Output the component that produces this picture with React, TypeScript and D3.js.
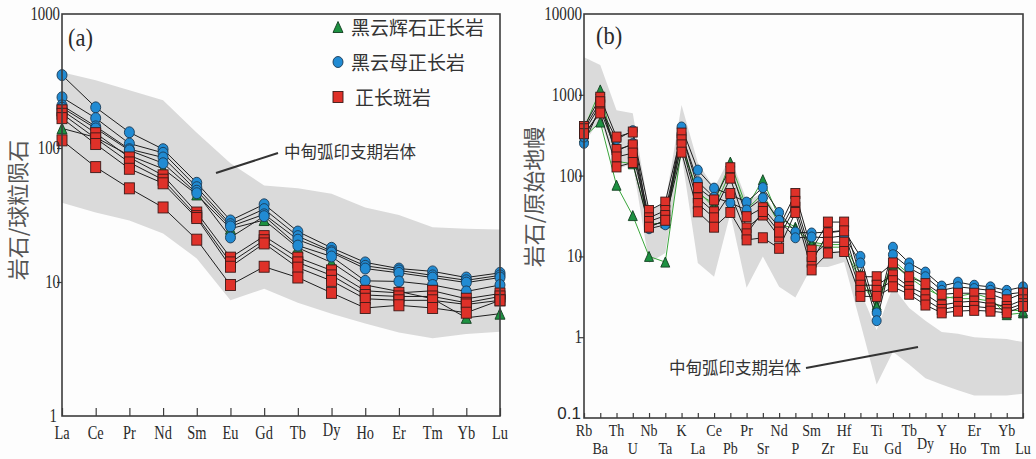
import React, { useRef, useEffect } from 'react'
import * as d3 from 'd3'

// ---- panel (a): chondrite-normalised REE ----
const reeElements = ['La', 'Ce', 'Pr', 'Nd', 'Sm', 'Eu', 'Gd', 'Tb', 'Dy', 'Ho', 'Er', 'Tm', 'Yb', 'Lu']
const reeBandUpper = [368, 320, 270, 227, 130, 77, 52.5, 50, 45.5, 36, 31.6, 25.6, 25, 24.7]
const reeBandLower = [39, 33, 28.8, 23, 15, 7.3, 8.9, 7.0, 5.8, 4.9, 4.2, 3.8, 4.1, 4.26]

const reeAugiteSyenite = [
  [140, 120, 88, 70, 45, 25, 29, 18, 14, 9.5, 8.5, 7.5, 5.4, 5.8],
]
const reeBiotiteSyenite = [
  [350, 201, 131, 98, 55, 28.8, 38, 23.8, 18, 14, 12.6, 12, 10.8, 11.7],
  [239, 167, 108, 92, 51, 27, 35, 22, 17, 13.2, 12.2, 11.2, 10.3, 11.2],
  [208, 145, 98, 85, 48, 26, 32, 20.7, 16.6, 12.6, 11.7, 10.8, 9.9, 10.8],
  [200, 140, 96, 77, 46, 21.5, 31, 18.7, 15.5, 10.2, 10.1, 9.5, 8.5, 9.5],
]
const reeSyenitePorphyry = [
  [191, 129, 85, 62.5, 33, 15.2, 22, 15.2, 12.2, 8.6, 8.3, 8.6, 7.5, 8.2],
  [180, 118, 78, 58, 31, 14, 20.5, 14, 11.2, 8, 7.8, 7.8, 7.0, 7.8],
  [167, 107, 70, 54.5, 30, 13, 19.4, 12.8, 10.2, 7.5, 7.3, 7.3, 6.8, 7.3],
  [114, 72, 50, 36, 20.7, 9.5, 13, 10.8, 8.3, 6.4, 6.7, 6.4, 5.9, 7.3],
]
const reeTicks = [1, 10, 100, 1000]

// ---- panel (b): primitive-mantle-normalised spider ----
const spiderElements = ['Rb', 'Ba', 'Th', 'U', 'Nb', 'Ta', 'K', 'La', 'Ce', 'Pb', 'Pr', 'Sr', 'Nd', 'P',
  'Sm', 'Zr', 'Hf', 'Eu', 'Ti', 'Gd', 'Tb', 'Dy', 'Y', 'Ho', 'Er', 'Tm', 'Yb', 'Lu']
const spiderBandUpper = [2910, 2340, 646, 590, 37, 46, 748, 145, 70, 170, 50, 60, 30, 17,
  17, 12, 11.5, 3.7, 1.23, 4.2, 2.3, 1.6, 1.16, 1.1, 1.0, 0.97, 0.95, 0.87]
const spiderBandLower = [250, 500, 120, 140, 8.3, 11, 180, 8.3, 5.6, 34, 4.1, 10, 4.2, 3.1,
  7.4, 7.4, 8.5, 1.5, 0.26, 0.66, 0.46, 0.31, 0.26, 0.22, 0.19, 0.19, 0.19, 0.2]

const spiderAugiteSyenite = [
  [380, 1150, 150, 140, 25, 26, 250, 60, 45, 147, 40, 89, 30, 23, 15, 14, 14, 6, 2.5, 9, 6, 4.5, 3.0, 3.2, 3.5, 3.0, 1.9, 2.0],
  [300, 460, 76, 32, 10, 8.5, 220, 65, 40, 110, 38, 60, 25, 22, 14, 13, 13, 5, 2.4, 8, 5.5, 4.0, 3.2, 3.0, 3.0, 2.8, 2.2, 2.1],
]
const spiderBiotiteSyenite = [
  [251, 700, 280, 360, 24, 27, 400, 117, 70, 58, 47, 71, 35, 20, 19.5, 20, 21, 10, 2.0, 13, 8.3, 6.4, 4.3, 4.8, 4.4, 4.2, 3.8, 4.2],
  [300, 650, 200, 250, 22, 24.6, 330, 84, 54, 46, 37.5, 53, 28, 17, 17.4, 17, 18, 8.3, 1.6, 10.5, 7.2, 5.6, 3.8, 4.2, 4.0, 3.8, 3.4, 3.6],
]
const spiderSyenitePorphyry = [
  [405, 933, 300, 346, 37, 47, 336, 71, 50, 125, 31, 40, 23, 60, 12, 26.6, 26.6, 5.6, 5.6, 8.3, 5.6, 4.6, 3.4, 3.5, 3.5, 3.4, 2.9, 3.5],
  [347, 750, 210, 240, 30, 37, 277, 53, 35.6, 93, 22.5, 32.5, 17.4, 40.6, 8.5, 19.6, 20.7, 4.4, 4.4, 5.9, 4.2, 3.4, 2.5, 2.7, 2.8, 2.6, 2.4, 2.9],
  [380, 820, 170, 190, 27, 32, 240, 45, 30, 60, 19, 36, 20, 48, 10, 15, 15, 3.8, 3.8, 5, 3.8, 2.9, 2.2, 2.4, 2.4, 2.3, 2.2, 2.6],
  [330, 596, 128, 145, 23, 28, 195, 35.6, 23, 35, 16, 17, 12.6, 35, 6.8, 11, 11.5, 3.2, 3.2, 4.2, 3.4, 2.5, 2.0, 2.1, 2.15, 2.1, 2.0, 2.4],
]
const spiderTicks = [0.1, 1, 10, 100, 1000, 10000]

const legendItems = ['黑云辉石正长岩', '黑云母正长岩', '正长斑岩']
const bandLabel = '中甸弧印支期岩体'

const BLUE = '#218bd3'
const RED = '#df3129'
const GREEN = '#1d9141'
const BAND = '#dadada'
const serif = 'Liberation Serif, Times New Roman, serif'
const cjk = 'Noto Sans CJK SC, sans-serif'

function App() {
  const svgRef = useRef(null)

  useEffect(() => {
    const svg = d3.select(svgRef.current)
    svg.selectAll('*').remove()

    // condensed serif text, like the original figure's labels
    const label = (g, x, y, str, size, anchor, sx = 0.8, family = serif) =>
      g.append('text')
        .attr('transform', `translate(${x},${y}) scale(${sx},1)`)
        .attr('text-anchor', anchor)
        .style('font-family', family)
        .style('font-size', size + 'px')
        .style('fill', '#2a2a2a')
        .text(str)

    const drawMarkers = (g, rows, x, y, kind, w, h) => {
      rows.forEach(row => {
        row.forEach((v, i) => {
          const cx = x(i)
          const cy = y(v)
          if (kind === 'circle') {
            g.append('ellipse').attr('cx', cx).attr('cy', cy).attr('rx', w / 2).attr('ry', h / 2)
              .attr('fill', BLUE).attr('stroke', '#1b3a55').attr('stroke-width', 0.9)
          } else if (kind === 'square') {
            g.append('rect').attr('x', cx - w / 2).attr('y', cy - h / 2).attr('width', w).attr('height', h)
              .attr('fill', RED).attr('stroke', '#3b1a18').attr('stroke-width', 0.9)
          } else {
            g.append('path')
              .attr('d', `M${cx},${cy - h / 2}L${cx + w / 2},${cy + h / 2}L${cx - w / 2},${cy + h / 2}Z`)
              .attr('fill', GREEN).attr('stroke', '#123d20').attr('stroke-width', 0.9)
          }
        })
      })
    }

    const drawPanel = (opts) => {
      const { elements, upper, lower, groups, ticks, left, right, top, bottom, tickLen, markW, markH } = opts
      const g = svg.append('g')
      const x = d3.scalePoint().domain(elements).range([left, right])
      const y = d3.scaleLog().domain([ticks[0], ticks[ticks.length - 1]]).range([bottom, top])
      const xi = i => x(elements[i])

      // shaded field
      const area = d3.area()
        .x((d, i) => xi(i))
        .y0((d, i) => y(lower[i]))
        .y1((d, i) => y(upper[i]))
      g.append('path').datum(upper).attr('d', area).attr('fill', BAND)

      // sample lines
      const line = d3.line().x((d, i) => xi(i)).y(d => y(d))
      groups.forEach(gr => {
        gr.rows.forEach(row => {
          g.append('path').datum(row).attr('d', line).attr('fill', 'none')
            .attr('stroke', gr.lineColor).attr('stroke-width', 1)
        })
      })

      // markers: triangles, then circles, then squares on top
      groups.forEach(gr => drawMarkers(g, gr.rows, xi, y, gr.kind, markW, markH))

      // frame
      g.append('rect').attr('x', left).attr('y', top).attr('width', right - left).attr('height', bottom - top)
        .attr('fill', 'none').attr('stroke', '#3d3d3d').attr('stroke-width', 1.6)

      // inward x ticks
      g.append('g')
        .attr('transform', `translate(0,${bottom})`)
        .call(d3.axisBottom(x).tickSize(-tickLen).tickFormat(''))
        .call(a => a.select('.domain').remove())
        .call(a => a.selectAll('line').attr('stroke', '#3d3d3d').attr('stroke-width', 1.2))

      // outward y ticks
      g.append('g')
        .attr('transform', `translate(${left},0)`)
        .call(d3.axisLeft(y).tickValues(ticks.slice(1, -1)).tickSize(5).tickFormat(''))
        .call(a => a.select('.domain').remove())
        .call(a => a.selectAll('line').attr('stroke', '#3d3d3d').attr('stroke-width', 1.2))

      return { g, x, y, xi }
    }

    // ---------- panel (a) ----------
    const a = drawPanel({
      elements: reeElements, upper: reeBandUpper, lower: reeBandLower, ticks: reeTicks,
      left: 62, right: 500, top: 14, bottom: 416, tickLen: 8, markW: 10, markH: 11,
      groups: [
        { rows: reeAugiteSyenite, kind: 'triangle', lineColor: '#1e1e1e' },
        { rows: reeBiotiteSyenite, kind: 'circle', lineColor: '#1e1e1e' },
        { rows: reeSyenitePorphyry, kind: 'square', lineColor: '#1e1e1e' },
      ],
    })
    reeTicks.forEach(t => label(a.g, t === 1 ? 57 : 60, a.y(t) + (t === 1 ? 6 : 6), String(t), 19, 'end', 0.78))
    reeElements.forEach((el, i) => label(a.g, a.xi(i), el === 'Dy' ? 436 : 439, el, 18, 'middle', 0.8))
    label(a.g, 68, 46, '(a)', 25, 'start', 0.9)

    a.g.append('text')
      .attr('transform', 'translate(26,210) rotate(-90)')
      .attr('text-anchor', 'middle')
      .style('font-family', cjk).style('font-size', '22px').style('fill', '#555')
      .text('岩石/球粒陨石')

    // legend
    const legend = a.g.append('g')
    const legendY = [27, 62, 97]
    const legendKinds = ['triangle', 'circle', 'square']
    legendItems.forEach((txt, i) => {
      drawMarkers(legend, [[1]], () => 338, () => legendY[i], legendKinds[i], 10, 11)
      legend.append('text')
        .attr('x', i === 2 ? 355 : 351).attr('y', legendY[i] + 8)
        .style('font-family', cjk).style('font-size', '19px').style('fill', '#333')
        .text(txt)
    })

    a.g.append('line').attr('x1', 216).attr('y1', 173).attr('x2', 278).attr('y2', 153)
      .attr('stroke', '#333').attr('stroke-width', 2)
    a.g.append('text').attr('x', 284).attr('y', 158)
      .style('font-family', cjk).style('font-size', '16.5px').style('fill', '#333')
      .text(bandLabel)

    // ---------- panel (b) ----------
    const b = drawPanel({
      elements: spiderElements, upper: spiderBandUpper, lower: spiderBandLower, ticks: spiderTicks,
      left: 584, right: 1023, top: 14, bottom: 418, tickLen: 5, markW: 9, markH: 10,
      groups: [
        { rows: spiderAugiteSyenite, kind: 'triangle', lineColor: '#3aa63c' },
        { rows: spiderBiotiteSyenite, kind: 'circle', lineColor: '#1e1e1e' },
        { rows: spiderSyenitePorphyry, kind: 'square', lineColor: '#1e1e1e' },
      ],
    })
    spiderTicks.forEach(t => {
      if (t === 0.1) {
        label(b.g, 581, b.y(t) + 1, '0.1', 17, 'end', 1, 'Liberation Sans, Arial, sans-serif')
      } else {
        label(b.g, 582, b.y(t) + 6, String(t), 18, 'end', 0.84)
      }
    })
    spiderElements.forEach((el, i) => {
      const yy = i % 2 === 0 ? 436 : (el === 'Dy' ? 449 : 454)
      label(b.g, b.xi(i), yy, el, 16.5, 'middle', 0.85)
    })
    label(b.g, 596, 44, '(b)', 25, 'start', 0.9)

    b.g.append('text')
      .attr('transform', 'translate(542,197) rotate(-90)')
      .attr('text-anchor', 'middle')
      .style('font-family', cjk).style('font-size', '22px').style('fill', '#555')
      .text('岩石/原始地幔')

    b.g.append('line').attr('x1', 806).attr('y1', 368).attr('x2', 918).attr('y2', 347)
      .attr('stroke', '#333').attr('stroke-width', 2)
    b.g.append('text').attr('x', 669).attr('y', 374)
      .style('font-family', cjk).style('font-size', '16.5px').style('fill', '#333')
      .text(bandLabel)
  }, [])

  return (
    <div style={{ position: 'absolute', left: 0, top: 0 }}>
      <svg ref={svgRef} width={1036} height={459} style={{ display: 'block', background: '#fdfdfd' }} />
    </div>
  )
}

export default App
